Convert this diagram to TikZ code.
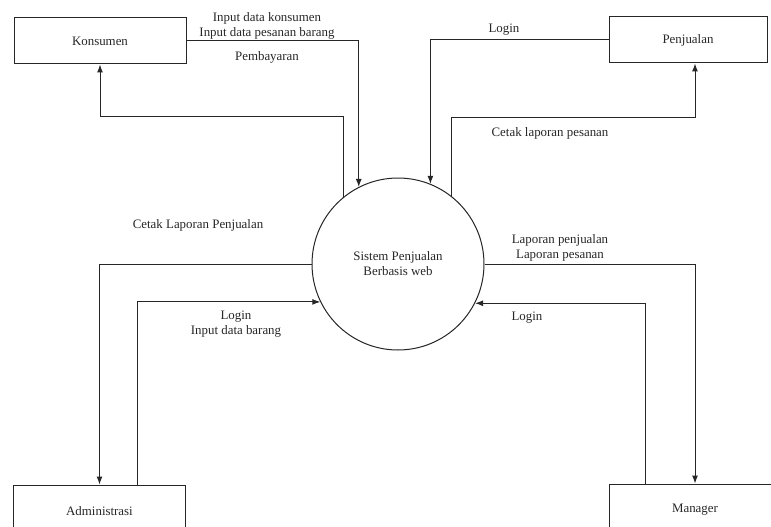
\documentclass[tikz,border=0pt]{standalone}
\usepackage{fontspec}
\setmainfont{Liberation Serif}
\usepackage{tikz}
\usetikzlibrary{arrows.meta,positioning}

\begin{document}
\begin{tikzpicture}[x=1pt, y=-1pt, ->, >={Latex[length=8pt,width=6pt]}, line width=1pt, draw=black!85,
    entity/.style={rectangle, draw, -, minimum width=172pt, minimum height=46pt, inner sep=0pt},
    proc/.style={circle, draw, -, minimum size=172pt, inner sep=0pt, align=center},
    lbl/.style={align=center, inner sep=0pt}]
    \clip (0,0) rectangle (771,527);
    \tikzset{every node/.style={font=\fontsize{12.9}{15}\selectfont, text=black!85}}

    \node[proc] (sis) at (398,264) {Sistem Penjualan\\Berbasis web};
    \node[entity] (kons) at (100,41) {Konsumen};
    \node[entity, minimum width=158pt] (penj) at (688,40) {Penjualan};
    \node[entity, minimum height=52pt] (adm) at (99.5,511) {Administrasi};
    \node[entity, minimum height=52pt] (man) at (695,510) {Manager};

    % labels
    \node[lbl] (l1) at (267,26) {Input data konsumen\\Input data pesanan barang};
    \node[lbl] (l2) at (267,57) {Pembayaran};
    \node[lbl] (l3) at (504,30) {Login};
    \node[lbl] (l4) at (550,133) {Cetak laporan pesanan};
    \node[lbl] (l5) at (198,225) {Cetak Laporan Penjualan};
    \node[lbl] (l6) at (236,324) {Login\\Input data barang};
    \node[lbl] (l7) at (560,248) {Laporan penjualan\\Laporan pesanan};
    \node[lbl] (l8) at (527,318) {Login};

    % flows
    \draw (kons.east) -| (sis.117.7);
    \draw (sis.129.8) -- ++(0,-80) -| (kons.south);
    \draw (penj.west) -| (sis.68.9);
    \draw (sis.52.8) -- ++(0,-78.5) -| ([xshift=7pt]penj.south);
    \draw (sis.west) -| (adm.north);
    \draw ([xshift=37.5pt]adm.north) |- (sis.206.2);
    \draw (sis.east) -| (man.north);
    \draw ([xshift=-50pt]man.north) |- (sis.-27.7);
\end{tikzpicture}
\end{document}
